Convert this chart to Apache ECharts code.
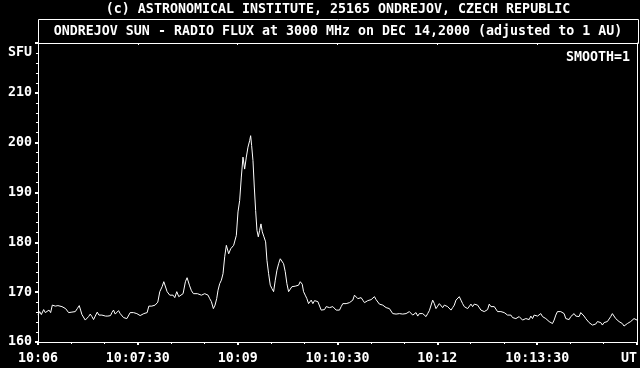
<!DOCTYPE html>
<html>
<head>
<meta charset="utf-8">
<script src="https://cdn.jsdelivr.net/npm/echarts@6/dist/echarts.min.js"></script>
<style>
html,body{margin:0;padding:0;background:#000;}
#c{width:640px;height:368px;}
</style>
</head>
<body>
<div id="c"></div>
<script>
// ---- Data (time in seconds after 10:06:00 UT, flux in SFU) ----
const copyrightText = '(c) ASTRONOMICAL INSTITUTE, 25165 ONDREJOV, CZECH REPUBLIC';
const titleText = 'ONDREJOV SUN - RADIO FLUX at 3000 MHz on DEC 14,2000 (adjusted to 1 AU)';
const yUnitText = 'SFU';
const smoothText = 'SMOOTH=1';
const xTickLabels = ['10:06', '10:07:30', '10:09', '10:10:30', '10:12', '10:13:30', 'UT'];

const timesSec = [
  0,1.5,3,5.1,6.6,8.1,9.9,11.4,12.9,14.4,15.6,16.8,18,19.8,21.6,23.4,24.9,26.4,27.6,29.1,
  30.6,32.1,33.6,35.4,37.2,38.4,39.6,41.1,42.6,44.1,45.6,47.1,48.6,50.1,51.6,53.4,54.9,56.4,57.6,59.1,
  60.9,63,65.4,66.6,68.1,69.6,71.1,72.6,74.1,75.6,77.1,78.6,80.1,81.6,83.1,84.6,86.1,87.6,89.1,90.6,
  92.1,93.9,95.4,96.9,98.4,99.9,101.4,102.6,104.1,105.6,107.1,108,
  109.8,111.9,113.4,114.9,116.4,118.8,120.3,121.8,123.3,125.1,126.9,128.4,130.8,132.9,134.4,136.5,138.3,140.1,141.9,143.7,
  145.2,147.3,148.8,150.3,151.8,153.3,154.8,156.3,158.1,159.6,161.1,162.3,163.8,165.3,166.8,168.3,169.8,171.9,173.7,175.2,176.4,
  177.3,178.8,180.3,181.8,183.3,184.8,186.3,187.8,189.3,190.8,191.7,192.6,193.8,195,196.2,197.4,198.6,199.8,201,202.2,
  203.7,205.2,206.4,207.9,209.4,210.9,212.4,213.9,215.4,216.9,218.4,219.9,221.4,222.9,224.4,225.9,227.4,228.9,230.4,231.9,
  233.4,234.9,236.4,237.3,238.2,239.4,240.9,242.4,243.9,
  244.8,246.3,247.8,249.3,250.8,252.3,253.8,255.3,256.8,258.3,259.8,261.3,262.8,264.3,265.8,267.3,268.8,270.3,271.8,273.3,
  274.8,276.3,277.8,279.3,280.8,282.3,283.8,285.3,286.8,288.3,289.8,291.3,292.8,294.3,295.8,297.3,298.8,300.3,301.8,303.3,
  304.8,306.3,307.8,309.3,310.8,312.3,313.8,315.3,316.8,318.3,319.8,321.3,322.8,324.3,325.8,327.3,328.8,330.3,331.8,333.3,
  334.8,336.3,337.8,339.3,340.8,342.3,343.8,345.3,346.8,348.3,349.8,351.3,352.8,354.3,355.8,357.3,358.8,360.3,361.8,363.3,
  364.8,366.3,367.8,369.3,370.8,372.3,373.8,375.3,376.8,378.3,379.8,381.3,382.8,384.3,385.8,387.3,388.8,390.3,391.8,
  393.3,394.8,396.3,397.8,399.3,400.8,402.3,403.8,405.3,406.8,408.3,409.8,411.3,412.8,414.3,415.8,417.3,418.8,420.3,421.8,
  423.3,424.8,426.3,427.8,429.3,430.8,432.3,433.8,435.3,436.8,438.3,439.8,441.3,442.8,444.3,445.8,447.3,448.8,450.3,451.8,
  453.3,454.8,456.3,457.8,459.3,460.8,462.3,463.8,465.3,466.8,468.3,469.8,471.3,472.8,474.3,475.8,477.3,478.8,480.3,481.8,
  483.3,484.8,486.3,487.8,489.3,490.8,492.3,493.8,495.3,496.8,498.3,499.8,501.3,502.8,504.3,505.8,507.3,508.8,510.3,511.8,
  513.3,514.8,516.3,517.8,519.3,520.8,522.3,523.8,525.3,526.8,528.3,529.8,531.3,532.8,534.3,535.8,537.3,538.8,540
];

const fluxSfu = [
  165.4,166.1,165.5,166.5,165.9,165.7,166.4,165.9,167.4,167.1,167.2,166.9,167.3,166.9,167.1,166.9,166.7,166.4,165.9,166.3,
  166.0,166.4,166.1,166.7,167.3,166.4,165.5,165.1,164.4,164.7,165.1,165.6,165.1,164.5,165.2,166.0,165.4,165.1,165.4,165.1,
  165.2,165.2,165.3,165.9,166.4,165.6,166.0,166.3,165.7,165.3,164.9,165.3,164.7,165.1,165.9,166.3,165.9,165.7,165.7,165.5,
  165.3,165.6,165.7,165.3,165.9,167.2,166.9,167.2,166.9,167.4,167.7,168.0,
  170.1,171.1,172.1,171.9,170.1,169.4,169.1,169.4,168.9,170.1,169.1,168.7,169.7,172.1,172.9,171.4,170.3,169.7,169.9,169.7,
  169.9,169.4,169.1,169.7,170.1,169.4,168.7,168.1,166.7,167.4,168.7,170.4,171.7,172.4,173.7,177.1,179.4,177.7,178.7,179.1,179.4,
  179.4,181.4,186.1,188.4,193.1,197.1,194.7,197.1,199.1,200.4,201.4,199.4,196.4,191.1,186.4,182.4,181.1,182.4,183.7,182.1,
  181.1,180.1,176.4,173.7,171.4,170.7,170.1,172.4,174.4,175.7,176.7,177.1,175.7,174.1,171.7,170.1,170.4,171.1,171.4,171.2,
  171.6,171.4,172.1,172.5,171.6,170.1,169.4,168.7,167.7,
  167.4,168.4,167.7,168.3,167.9,168.1,167.7,166.4,166.7,166.5,167.1,167.4,166.9,166.7,167.1,166.7,166.4,166.7,166.4,167.1,
  167.7,167.4,167.7,167.6,167.9,168.1,168.4,169.4,169.1,168.7,168.5,168.9,168.4,167.9,168.1,168.3,168.1,168.5,168.7,169.1,
  168.5,168.1,167.6,167.7,167.4,167.2,166.9,167.1,166.7,166.4,165.7,165.9,165.6,165.9,165.7,165.7,165.6,165.7,165.7,165.5,
  166.1,166.4,165.4,165.7,165.9,165.2,165.7,166.1,165.7,165.6,165.1,165.7,166.3,166.7,168.4,167.7,166.7,167.2,167.7,167.4,
  166.9,167.4,167.7,167.1,167.2,166.4,166.9,167.4,168.4,168.7,169.1,168.4,167.7,167.1,167.4,166.7,167.1,167.6,167.1,
  167.6,167.9,167.4,167.1,166.4,166.1,166.1,166.3,166.5,167.6,167.1,166.7,167.1,166.7,166.1,165.7,166.1,166.3,165.9,166.1,
  165.4,165.1,165.4,164.9,165.1,164.7,164.5,165.1,164.7,164.4,164.1,164.7,164.4,164.5,165.2,164.7,165.4,165.1,165.2,165.5,
  165.7,165.1,165.2,164.7,164.4,164.1,163.9,163.7,164.4,165.4,166.1,166.4,166.1,166.3,165.7,164.7,164.4,164.5,165.1,165.4,
  165.7,165.2,165.6,165.1,165.9,166.1,165.2,164.7,164.4,163.9,163.7,163.4,163.7,163.6,164.1,163.7,163.9,163.4,163.9,163.7,
  164.1,163.7,165.1,165.7,165.4,164.7,164.3,164.1,163.9,163.7,163.2,163.6,163.7,163.9,164.1,164.3,164.7,164.5,164.4
];

// ---- Build ----
const n = Math.min(timesSec.length, fluxSfu.length);
const seriesData = [];
for (let i = 0; i < n; i++) seriesData.push([timesSec[i], fluxSfu[i]]);

const FONT = 'DejaVu Sans Mono';
const FS = 13.3;
const W = '#ffffff';
const TXT_FONT = 'bold ' + FS + 'px "' + FONT + '"';

const chart = echarts.init(document.getElementById('c'), null, {renderer: 'canvas'});
const xBase = {
  type: 'value', min: 0, max: 540, interval: 90,
  splitLine: {show: false},
  axisLine: {show: true, onZero: false, lineStyle: {color: W, width: 1}}
};
const yBase = {
  type: 'value', min: 160, max: 220, interval: 10,
  splitLine: {show: false},
  axisLine: {show: true, onZero: false, lineStyle: {color: W, width: 1}}
};
chart.setOption({
  backgroundColor: '#000000',
  animation: false,
  grid: {left: 38, right: 2, top: 43, bottom: 26, containLabel: false},
  xAxis: [
    Object.assign({}, xBase, {
      position: 'bottom',
      axisTick: {show: true, length: 3, lineStyle: {color: W, width: 2}},
      minorTick: {show: true, splitNumber: 3, length: 2, lineStyle: {color: W, width: 1}},
      axisLabel: {
        show: true, color: W, fontFamily: FONT, fontSize: FS, fontWeight: 'bold', margin: 10,
        alignMaxLabel: 'right',
        formatter: function (v) { return xTickLabels[Math.round(v / 90)] || ''; }
      }
    }),
    Object.assign({}, xBase, {
      position: 'top',
      axisTick: {show: true, inside: true, length: 2, lineStyle: {color: W, width: 1}},
      minorTick: {show: true, splitNumber: 3, length: 1, lineStyle: {color: W, width: 1}},
      axisLabel: {show: false}
    })
  ],
  yAxis: [
    Object.assign({}, yBase, {
      position: 'left',
      axisTick: {show: true, length: 3, lineStyle: {color: W, width: 2}},
      minorTick: {show: true, splitNumber: 5, length: 2, lineStyle: {color: W, width: 1}},
      axisLabel: {
        show: true, color: W, fontFamily: FONT, fontSize: FS, fontWeight: 'bold', margin: 6,
        showMaxLabel: false
      }
    }),
    Object.assign({}, yBase, {
      position: 'right',
      axisTick: {show: false},
      axisLabel: {show: false}
    })
  ],
  series: [{
    type: 'line',
    xAxisIndex: 0, yAxisIndex: 0,
    data: seriesData,
    showSymbol: false,
    symbol: 'none',
    lineStyle: {color: W, width: 1},
    clip: true
  }],
  graphic: [
    {type: 'text', x: 338, y: 10, style: {text: copyrightText, fill: W, font: TXT_FONT, textAlign: 'center', textVerticalAlign: 'middle'}},
    {type: 'rect', shape: {x: 38.5, y: 19.5, width: 600, height: 24}, style: {fill: 'none', stroke: W, lineWidth: 1}},
    {type: 'text', x: 338, y: 32, style: {text: titleText, fill: W, font: TXT_FONT, textAlign: 'center', textVerticalAlign: 'middle'}},
    {type: 'text', x: 32, y: 53, style: {text: yUnitText, fill: W, font: TXT_FONT, textAlign: 'right', textVerticalAlign: 'middle'}},
    {type: 'text', x: 630, y: 58, style: {text: smoothText, fill: W, font: TXT_FONT, textAlign: 'right', textVerticalAlign: 'middle'}}
  ]
});
</script>
</body>
</html>
